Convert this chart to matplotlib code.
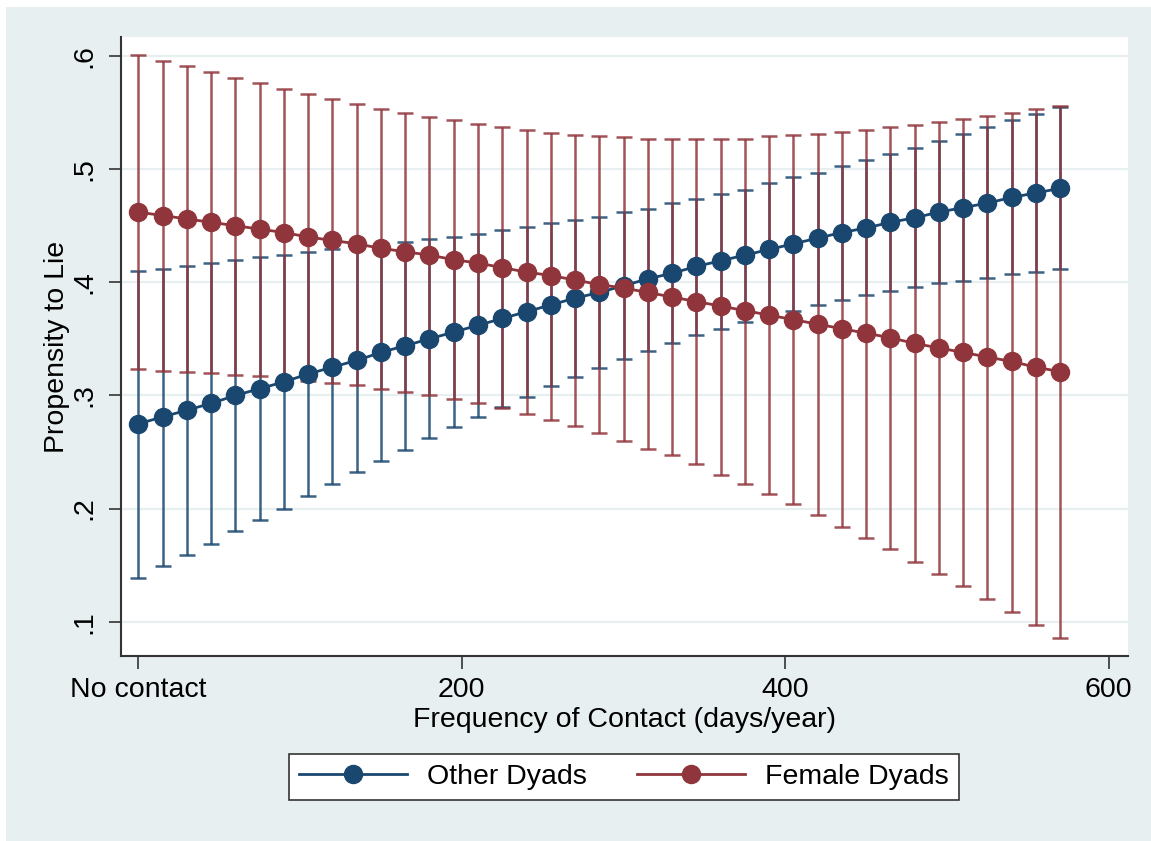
import matplotlib
matplotlib.use('Agg')
import matplotlib.pyplot as plt
from matplotlib.patches import Rectangle
import numpy as np

# marginsplot-style chart: predicted propensity to lie by frequency of contact
contact = list(range(0, 571, 15))  # days/year, 0 = no contact

other_mean = [0.275, 0.281, 0.287, 0.293, 0.300, 0.306, 0.312, 0.319, 0.325, 0.331,
              0.338, 0.344, 0.350, 0.356, 0.362, 0.368, 0.374, 0.380, 0.386, 0.391,
              0.397, 0.403, 0.408, 0.414, 0.419, 0.424, 0.429, 0.434, 0.439, 0.444,
              0.448, 0.453, 0.457, 0.462, 0.466, 0.470, 0.475, 0.479, 0.483]
other_lo = [0.139, 0.149, 0.159, 0.169, 0.180, 0.190, 0.200, 0.211, 0.222, 0.232,
            0.242, 0.252, 0.262, 0.272, 0.281, 0.290, 0.299, 0.308, 0.316, 0.324,
            0.332, 0.339, 0.346, 0.353, 0.359, 0.365, 0.370, 0.375, 0.380, 0.384,
            0.389, 0.392, 0.396, 0.399, 0.401, 0.404, 0.407, 0.409, 0.412]
other_hi = [0.410, 0.412, 0.414, 0.417, 0.420, 0.422, 0.424, 0.427, 0.429, 0.431,
            0.434, 0.436, 0.438, 0.440, 0.443, 0.446, 0.449, 0.452, 0.455, 0.458,
            0.462, 0.465, 0.470, 0.474, 0.478, 0.482, 0.488, 0.493, 0.497, 0.503,
            0.508, 0.513, 0.519, 0.525, 0.531, 0.537, 0.543, 0.549, 0.555]

female_mean = [0.462, 0.459, 0.456, 0.453, 0.450, 0.447, 0.444, 0.440, 0.437, 0.434,
               0.430, 0.427, 0.424, 0.420, 0.417, 0.413, 0.409, 0.406, 0.402, 0.398,
               0.395, 0.391, 0.387, 0.383, 0.379, 0.375, 0.371, 0.367, 0.363, 0.359,
               0.355, 0.351, 0.346, 0.342, 0.338, 0.334, 0.330, 0.325, 0.321]
female_lo = [0.323, 0.322, 0.321, 0.320, 0.318, 0.317, 0.315, 0.313, 0.311, 0.309,
             0.306, 0.303, 0.300, 0.297, 0.293, 0.289, 0.284, 0.278, 0.273, 0.267,
             0.260, 0.253, 0.247, 0.239, 0.230, 0.222, 0.213, 0.204, 0.194, 0.184,
             0.174, 0.164, 0.153, 0.142, 0.132, 0.120, 0.109, 0.097, 0.086]
female_hi = [0.601, 0.596, 0.591, 0.586, 0.581, 0.576, 0.571, 0.566, 0.562, 0.558,
             0.553, 0.550, 0.546, 0.543, 0.540, 0.537, 0.535, 0.532, 0.530, 0.529,
             0.528, 0.527, 0.527, 0.527, 0.527, 0.527, 0.529, 0.530, 0.531, 0.533,
             0.535, 0.537, 0.539, 0.542, 0.544, 0.547, 0.550, 0.553, 0.556]

xtick_vals = [0, 200, 400, 600]
xtick_labels = ['No contact', '200', '400', '600']
ytick_vals = [0.1, 0.2, 0.3, 0.4, 0.5, 0.6]
ytick_labels = ['.1', '.2', '.3', '.4', '.5', '.6']

blue = '#1a476f'
red = '#90353b'
bg = '#e8eff1'

plt.rcParams['font.family'] = ['Liberation Sans', 'DejaVu Sans']
fs = 20.5

W, H = 1151, 841
fig = plt.figure(figsize=(W / 100, H / 100), dpi=100, facecolor=bg)
# thin white strips along the top and left edge of the screenshot
fig.patches.append(Rectangle((0, 0), 6 / W, 1, transform=fig.transFigure,
                             facecolor='white', edgecolor='none'))
fig.patches.append(Rectangle((0, 1 - 7 / H), 1, 7 / H, transform=fig.transFigure,
                             facecolor='white', edgecolor='none'))

# plot region in pixels: x 120..1128, y 37..656
ax = fig.add_axes([120.5 / W, (H - 656) / H, (1128 - 120.5) / W, (656 - 37) / H])
ax.set_facecolor('white')

x = np.array(contact)
om, ol, oh = map(np.array, (other_mean, other_lo, other_hi))
fm, fl, fh = map(np.array, (female_mean, female_lo, female_hi))

ax.errorbar(x, om, yerr=[om - ol, oh - om], fmt='none', ecolor=blue, elinewidth=1.8,
            capsize=5.5, capthick=1.8, alpha=0.85, zorder=2)
ax.errorbar(x, fm, yerr=[fm - fl, fh - fm], fmt='none', ecolor=red, elinewidth=1.8,
            capsize=5.5, capthick=1.8, alpha=0.85, zorder=3)
ax.plot(x, om, '-o', color=blue, lw=2, ms=13, label='Other Dyads', zorder=4)
ax.plot(x, fm, '-o', color=red, lw=2, ms=13, label='Female Dyads', zorder=5)

ax.set_xlim(-11.1, 612)
ax.set_ylim(0.0697, 0.6168)

ax.set_xticks(xtick_vals)
ax.set_xticklabels(xtick_labels, fontsize=fs)
ax.set_yticks(ytick_vals)
ax.set_yticklabels(ytick_labels, fontsize=fs, rotation=90, va='center')
ax.tick_params(axis='both', direction='out', length=9, width=1.2, color='#333333')
ax.tick_params(axis='x', pad=6)
ax.tick_params(axis='y', pad=8)

ax.grid(axis='y', color=bg, lw=1.6, zorder=0)
ax.set_axisbelow(True)
for s in ['top', 'right']:
    ax.spines[s].set_visible(False)
for s in ['left', 'bottom']:
    ax.spines[s].set_color('#333333')
    ax.spines[s].set_linewidth(1.5)

ax.set_xlabel('Frequency of Contact (days/year)', fontsize=fs, labelpad=3)
ax.set_ylabel('Propensity to Lie', fontsize=fs, labelpad=1)

leg = fig.legend(loc='center', bbox_to_anchor=(624 / W, 1 - 777 / H), ncol=2, fontsize=fs,
                 frameon=True, fancybox=False, edgecolor='#333333', framealpha=1,
                 handlelength=3.8, handletextpad=0.7, columnspacing=1.75, borderpad=0.35)
leg.get_frame().set_linewidth(1.2)
leg.get_frame().set_facecolor('white')

fig.savefig('out.png', dpi=100, facecolor=fig.get_facecolor())
